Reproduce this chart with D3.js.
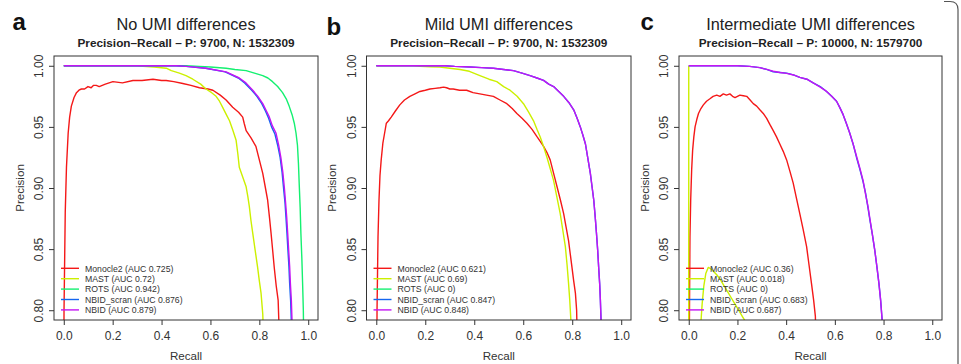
<!DOCTYPE html>
<html><head><meta charset="utf-8">
<script src="https://cdn.jsdelivr.net/npm/d3@7"></script>
<style>
body{margin:0;background:#fff;}
svg{display:block;font-family:"Liberation Sans",Arial,Helvetica,sans-serif;}
</style></head>
<body><svg id="chart" width="961" height="364"></svg>
<script>
// ---------- data ----------
const methods = ["Monocle2", "MAST", "ROTS", "NBID_scran", "NBID"];
const colors = ["#F41818", "#CCF000", "#14F070", "#1466F0", "#C414F4"];
const panelLetters = ["a", "b", "c"];
const panelTitles = ["No UMI differences", "Mild UMI differences", "Intermediate UMI differences"];
const panelSubtitles = ["Precision\u2013Recall \u2013 P: 9700, N: 1532309",
                        "Precision\u2013Recall \u2013 P: 9700, N: 1532309",
                        "Precision\u2013Recall \u2013 P: 10000, N: 1579700"];
const aucA = ["0.725", "0.72", "0.942", "0.876", "0.879"];
const aucB = ["0.621", "0.69", "0", "0.847", "0.848"];
const aucC = ["0.36", "0.018", "0", "0.683", "0.687"];
const xTicks = [0.0, 0.2, 0.4, 0.6, 0.8, 1.0];
const yTicks = [0.80, 0.85, 0.90, 0.95, 1.00];

// panel a  [recall, precision]
const a_monocle2 = [[0,0.70],[0.001,0.80],[0.006,0.88],[0.011,0.917],[0.018,0.945],[0.024,0.958],[0.031,0.967],[0.042,0.974],[0.052,0.978],[0.062,0.980],[0.072,0.981],[0.085,0.981],[0.099,0.983],[0.112,0.982],[0.122,0.984],[0.133,0.984],[0.145,0.983],[0.17,0.985],[0.201,0.987],[0.24,0.986],[0.283,0.988],[0.32,0.988],[0.365,0.989],[0.40,0.988],[0.419,0.988],[0.45,0.987],[0.487,0.9855],[0.52,0.984],[0.555,0.982],[0.59,0.981],[0.61,0.980],[0.64,0.976],[0.664,0.972],[0.691,0.966],[0.715,0.962],[0.732,0.958],[0.738,0.953],[0.746,0.947],[0.766,0.941],[0.786,0.934],[0.80,0.923],[0.814,0.912],[0.825,0.900],[0.834,0.890],[0.842,0.875],[0.848,0.863],[0.855,0.848],[0.861,0.835],[0.869,0.820],[0.877,0.808],[0.880,0.790],[0.882,0.75]];
const a_mast = [[0,1.0],[0.30,1.0],[0.324,0.9995],[0.37,0.999],[0.419,0.998],[0.44,0.996],[0.473,0.994],[0.50,0.992],[0.528,0.989],[0.56,0.985],[0.582,0.981],[0.605,0.978],[0.623,0.975],[0.637,0.971],[0.650,0.966],[0.665,0.960],[0.678,0.955],[0.692,0.947],[0.705,0.939],[0.712,0.928],[0.718,0.917],[0.732,0.909],[0.746,0.901],[0.753,0.893],[0.759,0.885],[0.766,0.873],[0.773,0.863],[0.783,0.849],[0.793,0.835],[0.800,0.824],[0.807,0.814],[0.814,0.797],[0.817,0.78]];
const a_rots = [[0,1.0],[0.50,1.0],[0.555,0.9995],[0.60,0.999],[0.664,0.998],[0.70,0.997],[0.746,0.996],[0.78,0.994],[0.814,0.992],[0.835,0.990],[0.854,0.987],[0.875,0.983],[0.895,0.978],[0.910,0.973],[0.922,0.967],[0.934,0.960],[0.943,0.953],[0.950,0.945],[0.956,0.935],[0.960,0.920],[0.963,0.904],[0.967,0.884],[0.970,0.863],[0.974,0.842],[0.977,0.822],[0.980,0.800],[0.982,0.77]];
const a_nbidScran = [[0,1.0],[0.46,1.0],[0.50,0.9995],[0.58,0.998],[0.66,0.995],[0.714,0.990],[0.74,0.986],[0.769,0.980],[0.79,0.975],[0.810,0.969],[0.825,0.963],[0.838,0.957],[0.850,0.950],[0.864,0.944],[0.875,0.935],[0.885,0.925],[0.893,0.913],[0.899,0.900],[0.905,0.888],[0.909,0.876],[0.913,0.863],[0.917,0.849],[0.921,0.836],[0.924,0.822],[0.928,0.808],[0.931,0.79],[0.933,0.77]];
const a_nbid = [[0,1.0],[0.46,1.0],[0.501,0.9995],[0.582,0.998],[0.664,0.995],[0.718,0.990],[0.745,0.986],[0.773,0.980],[0.794,0.975],[0.814,0.969],[0.829,0.963],[0.841,0.958],[0.853,0.951],[0.868,0.945],[0.879,0.935],[0.888,0.925],[0.896,0.913],[0.902,0.901],[0.907,0.889],[0.912,0.876],[0.916,0.863],[0.920,0.849],[0.924,0.836],[0.927,0.822],[0.931,0.808],[0.934,0.79],[0.936,0.77]];

// panel b
const b_monocle2 = [[0.001,0.70],[0.003,0.80],[0.007,0.86],[0.011,0.89],[0.015,0.910],[0.020,0.923],[0.027,0.937],[0.034,0.945],[0.041,0.953],[0.05,0.955],[0.061,0.958],[0.078,0.963],[0.096,0.968],[0.115,0.972],[0.137,0.975],[0.158,0.977],[0.178,0.979],[0.20,0.980],[0.219,0.981],[0.24,0.9815],[0.260,0.982],[0.275,0.9825],[0.287,0.982],[0.30,0.981],[0.314,0.981],[0.34,0.980],[0.369,0.980],[0.395,0.978],[0.423,0.977],[0.45,0.976],[0.478,0.975],[0.505,0.972],[0.533,0.969],[0.555,0.965],[0.574,0.961],[0.595,0.957],[0.615,0.953],[0.636,0.948],[0.656,0.942],[0.670,0.938],[0.683,0.934],[0.697,0.929],[0.710,0.923],[0.724,0.912],[0.738,0.901],[0.752,0.890],[0.765,0.879],[0.775,0.868],[0.785,0.857],[0.792,0.846],[0.799,0.835],[0.806,0.824],[0.813,0.814],[0.818,0.80],[0.820,0.78]];
const b_mast = [[0,1.0],[0.15,1.0],[0.178,0.9995],[0.22,0.9992],[0.260,0.999],[0.30,0.998],[0.342,0.997],[0.38,0.9955],[0.423,0.992],[0.46,0.989],[0.492,0.987],[0.52,0.983],[0.546,0.980],[0.575,0.975],[0.601,0.969],[0.622,0.962],[0.642,0.955],[0.656,0.948],[0.669,0.942],[0.683,0.934],[0.697,0.925],[0.710,0.916],[0.724,0.906],[0.737,0.893],[0.751,0.879],[0.762,0.865],[0.772,0.852],[0.779,0.837],[0.785,0.822],[0.790,0.808],[0.795,0.79],[0.797,0.77]];
const b_rots = [];
const b_nbidScran = [[0,1.0],[0.28,1.0],[0.32,0.9995],[0.383,0.999],[0.43,0.9985],[0.478,0.998],[0.52,0.997],[0.560,0.996],[0.595,0.994],[0.628,0.992],[0.656,0.990],[0.683,0.988],[0.704,0.985],[0.724,0.983],[0.745,0.979],[0.765,0.975],[0.786,0.970],[0.806,0.964],[0.820,0.957],[0.833,0.950],[0.844,0.943],[0.854,0.936],[0.864,0.924],[0.874,0.912],[0.881,0.901],[0.888,0.890],[0.894,0.876],[0.899,0.863],[0.904,0.849],[0.908,0.835],[0.912,0.822],[0.915,0.808],[0.918,0.79],[0.919,0.77]];
const b_nbid = [[0,1.0],[0.28,1.0],[0.32,0.9995],[0.383,0.999],[0.43,0.9985],[0.478,0.998],[0.52,0.997],[0.560,0.996],[0.595,0.994],[0.628,0.992],[0.656,0.990],[0.683,0.988],[0.704,0.985],[0.724,0.983],[0.745,0.979],[0.765,0.975],[0.786,0.970],[0.806,0.964],[0.820,0.957],[0.833,0.950],[0.844,0.943],[0.854,0.936],[0.864,0.924],[0.874,0.912],[0.881,0.901],[0.888,0.890],[0.894,0.876],[0.899,0.863],[0.904,0.849],[0.908,0.835],[0.912,0.822],[0.915,0.808],[0.918,0.79],[0.919,0.77]];

// panel c
const c_monocle2 = [[0.001,0.70],[0.003,0.80],[0.005,0.86],[0.008,0.89],[0.012,0.915],[0.016,0.931],[0.021,0.942],[0.026,0.950],[0.033,0.956],[0.040,0.961],[0.050,0.965],[0.060,0.968],[0.073,0.971],[0.087,0.973],[0.10,0.975],[0.115,0.976],[0.128,0.975],[0.142,0.977],[0.155,0.976],[0.169,0.977],[0.180,0.975],[0.190,0.974],[0.20,0.975],[0.210,0.976],[0.224,0.9755],[0.238,0.975],[0.252,0.972],[0.265,0.969],[0.279,0.967],[0.292,0.964],[0.306,0.961],[0.320,0.957],[0.333,0.952],[0.347,0.947],[0.360,0.942],[0.374,0.936],[0.388,0.930],[0.402,0.923],[0.415,0.914],[0.429,0.904],[0.442,0.892],[0.456,0.879],[0.470,0.866],[0.484,0.852],[0.494,0.837],[0.504,0.822],[0.513,0.808],[0.520,0.795],[0.523,0.77]];
const c_mast = [[0,1.0],[0,0.70],[0.050,0.70],[0.050,0.790],[0.055,0.805],[0.062,0.820],[0.070,0.830],[0.080,0.835],[0.090,0.834],[0.100,0.832],[0.115,0.829],[0.130,0.825],[0.145,0.820],[0.160,0.815],[0.175,0.810],[0.190,0.805],[0.205,0.800],[0.220,0.795],[0.235,0.790],[0.245,0.78]];
const c_rots = [];
const c_nbidScran = [[0,1.0],[0.20,1.0],[0.25,0.9995],[0.292,0.9985],[0.32,0.997],[0.347,0.995],[0.375,0.9945],[0.402,0.994],[0.43,0.9925],[0.456,0.9905],[0.485,0.989],[0.511,0.986],[0.54,0.983],[0.566,0.979],[0.587,0.975],[0.607,0.971],[0.620,0.966],[0.634,0.960],[0.647,0.953],[0.661,0.945],[0.675,0.936],[0.689,0.925],[0.703,0.915],[0.716,0.905],[0.726,0.896],[0.736,0.884],[0.743,0.875],[0.754,0.862],[0.764,0.849],[0.773,0.835],[0.781,0.822],[0.788,0.808],[0.795,0.79],[0.797,0.77]];
const c_nbid = [[0,1.0],[0.20,1.0],[0.25,0.9995],[0.292,0.9985],[0.32,0.997],[0.347,0.9955],[0.375,0.9945],[0.402,0.9938],[0.43,0.9925],[0.456,0.9905],[0.485,0.989],[0.511,0.986],[0.54,0.9825],[0.566,0.979],[0.587,0.975],[0.607,0.971],[0.620,0.966],[0.634,0.960],[0.647,0.953],[0.661,0.945],[0.675,0.936],[0.689,0.926],[0.703,0.916],[0.716,0.906],[0.726,0.895],[0.736,0.885],[0.743,0.876],[0.754,0.862],[0.764,0.849],[0.773,0.835],[0.781,0.822],[0.788,0.808],[0.795,0.79],[0.797,0.77]];

const panelSeries = [
  [a_monocle2, a_mast, a_rots, a_nbidScran, a_nbid],
  [b_monocle2, b_mast, b_rots, b_nbidScran, b_nbid],
  [c_monocle2, c_mast, c_rots, c_nbidScran, c_nbid]
];
const panelAUC = [aucA, aucB, aucC];

// ---------- layout ----------
const boxes = [
  {left: 54, right: 318},
  {left: 366.5, right: 631},
  {left: 679, right: 942}
];
const boxTop = 56, boxBottom = 320;
const letterX = [12.5, 326.5, 640.5];
const letterY = [30, 34.5, 29.5];

const svg = d3.select("#chart");

// outer frame fragment at right edge
svg.append("path")
  .attr("d", "M944,1.5 H950 Q958,1.5 958,9.5 V364")
  .attr("fill", "none").attr("stroke", "#555").attr("stroke-width", 1.2);

panelSeries.forEach((series, pi) => {
  const bx = boxes[pi];
  const x = d3.scaleLinear().domain([-0.04, 1.04]).range([bx.left, bx.right]);
  const y = d3.scaleLinear().domain([0.792, 1.008]).range([boxBottom, boxTop]);
  const g = svg.append("g");
  const cx = (bx.left + bx.right) / 2;

  // panel letter
  g.append("text").attr("x", letterX[pi]).attr("y", letterY[pi])
    .attr("font-size", 24).attr("font-weight", "bold").attr("fill", "#111")
    .text(panelLetters[pi]);
  // titles
  g.append("text").attr("x", cx).attr("y", 29.5).attr("text-anchor", "middle")
    .attr("font-size", 16.3).attr("fill", "#222").text(panelTitles[pi]);
  g.append("text").attr("x", cx).attr("y", 47.3).attr("text-anchor", "middle")
    .attr("font-size", 11.8).attr("font-weight", "bold").attr("fill", "#222").text(panelSubtitles[pi]);

  // clip
  const clipId = "clip" + pi;
  svg.append("clipPath").attr("id", clipId).append("rect")
    .attr("x", bx.left).attr("y", boxTop).attr("width", bx.right - bx.left).attr("height", boxBottom - boxTop);

  const line = d3.line().x(d => x(d[0])).y(d => y(d[1]));
  const lg = g.append("g").attr("clip-path", `url(#${clipId})`);
  series.forEach((s, si) => {
    if (!s.length) return;
    lg.append("path").datum(s).attr("d", line)
      .attr("fill", "none").attr("stroke", colors[si]).attr("stroke-width", 1.4)
      .attr("stroke-linejoin", "round");
  });

  // axes
  const xa = g.append("g").attr("transform", `translate(0,${boxBottom})`)
    .call(d3.axisBottom(x).tickValues(xTicks).tickSize(5).tickPadding(6).tickFormat(d3.format(".1f")));
  const ya = g.append("g").attr("transform", `translate(${bx.left},0)`)
    .call(d3.axisLeft(y).tickValues(yTicks).tickSize(5).tickFormat(d3.format(".2f")));
  [xa, ya].forEach(a => {
    a.select(".domain").remove();
    a.selectAll(".tick line").attr("stroke", "#333");
    a.selectAll("text").attr("font-size", 12).attr("fill", "#333").attr("font-family", null);
    a.attr("font-family", null);
  });
  ya.selectAll(".tick text")
    .attr("x", null).attr("dy", null).attr("text-anchor", "middle")
    .attr("transform", "translate(-11,0) rotate(-90)");

  // box
  g.append("rect").attr("x", bx.left).attr("y", boxTop)
    .attr("width", bx.right - bx.left).attr("height", boxBottom - boxTop)
    .attr("fill", "none").attr("stroke", "#333").attr("stroke-width", 1);

  // axis titles
  g.append("text").attr("x", cx).attr("y", 359.5).attr("text-anchor", "middle")
    .attr("font-size", 11.6).attr("fill", "#333").text("Recall");
  g.append("text").attr("transform", `translate(${bx.left - 30.5},${(boxTop + boxBottom) / 2}) rotate(-90)`)
    .attr("text-anchor", "middle").attr("font-size", 11.6).attr("fill", "#333").text("Precision");

  // legend
  const legTop = 268.3, legStep = 10.4;
  methods.forEach((m, mi) => {
    const ly = legTop + mi * legStep;
    g.append("line").attr("x1", bx.left + 7).attr("x2", bx.left + 25)
      .attr("y1", ly).attr("y2", ly).attr("stroke", colors[mi]).attr("stroke-width", 1.4);
    g.append("text").attr("x", bx.left + 31).attr("y", ly + 3.2)
      .attr("font-size", 8.7).attr("fill", "#333")
      .text(`${m} (AUC ${panelAUC[pi][mi]})`);
  });
});
</script>
</body></html>
